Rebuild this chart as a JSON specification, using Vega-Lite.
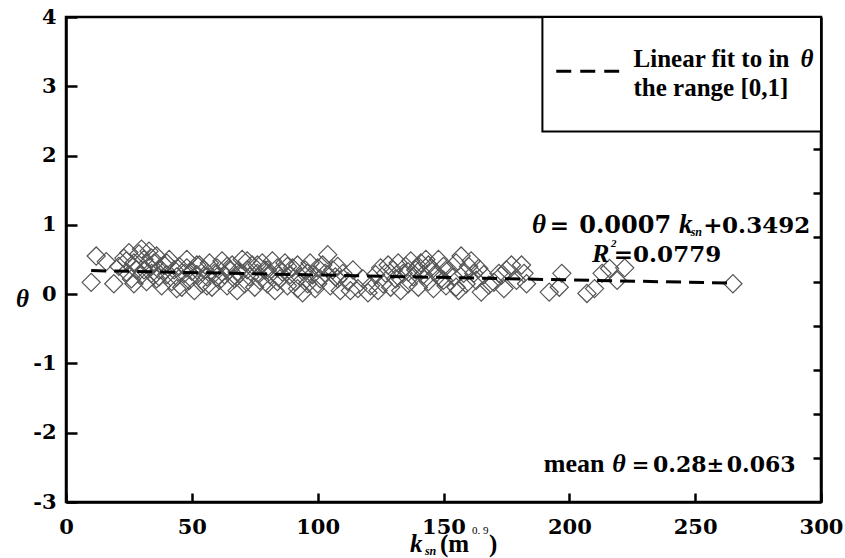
{
  "$schema": "https://vega.github.io/schema/vega-lite/v6.json",
  "width": 755,
  "height": 485,
  "autosize": "none",
  "padding": {"left": 66, "top": 17, "right": 24, "bottom": 56},
  "background": "white",
  "config": {
    "view": {"stroke": "black", "strokeWidth": 2.5},
    "axis": {
      "labelFont": "DejaVu Serif", "labelFontWeight": "bold", "labelFontSize": 21, "labelColor": "black",
      "domainColor": "black", "domainWidth": 2.5, "tickColor": "black", "tickWidth": 2.5, "grid": false,
      "titleFont": "Liberation Serif, Times New Roman, serif", "titleFontWeight": "bold", "titleColor": "black"
    },
    "text": {"font": "Liberation Serif, Times New Roman, serif", "fontWeight": "bold", "fontSize": 25, "color": "black", "baseline": "alphabetic"}
  },
  "datasets": {
    "pts": [
      {"k":10,"theta":0.17},{"k":12,"theta":0.55},{"k":16,"theta":0.47},{"k":19,"theta":0.15},{"k":21,"theta":0.40},
      {"k":23,"theta":0.52},{"k":24,"theta":0.32},{"k":24,"theta":0.48},{"k":25,"theta":0.60},{"k":26,"theta":0.22},
      {"k":27,"theta":0.45},{"k":27,"theta":0.15},{"k":28,"theta":0.35},{"k":29,"theta":0.58},{"k":30,"theta":0.28},
      {"k":30,"theta":0.65},{"k":31,"theta":0.50},{"k":31,"theta":0.35},{"k":32,"theta":0.18},{"k":33,"theta":0.40},
      {"k":33,"theta":0.62},{"k":34,"theta":0.30},{"k":34,"theta":0.52},{"k":35,"theta":0.45},{"k":36,"theta":0.22},
      {"k":36,"theta":0.55},{"k":37,"theta":0.35},{"k":37,"theta":0.25},{"k":38,"theta":0.12},{"k":39,"theta":0.42},
      {"k":40,"theta":0.28},{"k":40,"theta":0.45},{"k":41,"theta":0.50},{"k":42,"theta":0.18},{"k":43,"theta":0.35},
      {"k":44,"theta":0.25},{"k":44,"theta":0.08},{"k":45,"theta":0.40},{"k":46,"theta":0.10},{"k":47,"theta":0.30},
      {"k":48,"theta":0.38},{"k":48,"theta":0.50},{"k":49,"theta":0.20},{"k":50,"theta":0.33},{"k":51,"theta":0.05},
      {"k":52,"theta":0.28},{"k":52,"theta":0.42},{"k":53,"theta":0.42},{"k":54,"theta":0.15},{"k":55,"theta":0.35},
      {"k":56,"theta":0.25},{"k":56,"theta":0.12},{"k":57,"theta":0.45},{"k":58,"theta":0.10},{"k":59,"theta":0.30},
      {"k":60,"theta":0.38},{"k":60,"theta":0.25},{"k":61,"theta":0.20},{"k":62,"theta":0.48},{"k":63,"theta":0.28},
      {"k":64,"theta":0.12},{"k":64,"theta":0.40},{"k":65,"theta":0.35},{"k":66,"theta":0.42},{"k":67,"theta":0.22},
      {"k":68,"theta":0.05},{"k":68,"theta":0.32},{"k":69,"theta":0.30},{"k":70,"theta":0.50},{"k":71,"theta":0.15},
      {"k":72,"theta":0.35},{"k":72,"theta":0.48},{"k":73,"theta":0.25},{"k":74,"theta":0.42},{"k":75,"theta":0.10},
      {"k":76,"theta":0.30},{"k":76,"theta":0.42},{"k":77,"theta":0.20},{"k":78,"theta":0.45},{"k":79,"theta":0.35},
      {"k":80,"theta":0.15},{"k":80,"theta":0.35},{"k":81,"theta":0.28},{"k":82,"theta":0.48},{"k":83,"theta":0.05},
      {"k":84,"theta":0.38},{"k":84,"theta":0.18},{"k":85,"theta":0.22},{"k":86,"theta":0.32},{"k":87,"theta":0.45},
      {"k":88,"theta":0.12},{"k":88,"theta":0.40},{"k":89,"theta":0.28},{"k":90,"theta":0.38},{"k":91,"theta":0.18},
      {"k":92,"theta":0.42},{"k":92,"theta":0.08},{"k":93,"theta":0.25},{"k":94,"theta":0.02},{"k":95,"theta":0.35},
      {"k":96,"theta":0.15},{"k":96,"theta":0.30},{"k":97,"theta":0.45},{"k":98,"theta":0.28},{"k":99,"theta":0.08},
      {"k":100,"theta":0.38},{"k":100,"theta":0.15},{"k":101,"theta":0.22},{"k":102,"theta":0.42},{"k":103,"theta":0.30},
      {"k":104,"theta":0.57},{"k":105,"theta":0.12},{"k":106,"theta":0.35},{"k":107,"theta":0.25},{"k":108,"theta":0.40},
      {"k":108,"theta":0.22},{"k":109,"theta":0.05},{"k":110,"theta":0.30},{"k":112,"theta":0.18},{"k":113,"theta":0.05},
      {"k":114,"theta":0.35},{"k":116,"theta":0.08},{"k":118,"theta":0.22},{"k":120,"theta":0.02},{"k":121,"theta":0.12},
      {"k":123,"theta":0.28},{"k":124,"theta":0.05},{"k":125,"theta":0.38},{"k":126,"theta":0.15},{"k":127,"theta":0.30},
      {"k":128,"theta":0.42},{"k":129,"theta":0.10},{"k":130,"theta":0.35},{"k":131,"theta":0.22},{"k":132,"theta":0.45},
      {"k":133,"theta":0.05},{"k":134,"theta":0.30},{"k":135,"theta":0.40},{"k":136,"theta":0.15},{"k":136,"theta":0.32},
      {"k":137,"theta":0.48},{"k":138,"theta":0.25},{"k":139,"theta":0.35},{"k":140,"theta":0.10},{"k":140,"theta":0.40},
      {"k":141,"theta":0.45},{"k":142,"theta":0.28},{"k":143,"theta":0.50},{"k":144,"theta":0.18},{"k":144,"theta":0.42},
      {"k":145,"theta":0.38},{"k":146,"theta":0.08},{"k":147,"theta":0.30},{"k":148,"theta":0.50},{"k":149,"theta":0.22},
      {"k":150,"theta":0.40},{"k":150,"theta":0.20},{"k":151,"theta":0.12},{"k":152,"theta":0.35},{"k":154,"theta":0.25},
      {"k":155,"theta":0.45},{"k":155,"theta":0.10},{"k":156,"theta":0.05},{"k":157,"theta":0.55},{"k":158,"theta":0.30},
      {"k":159,"theta":0.15},{"k":160,"theta":0.40},{"k":161,"theta":0.48},{"k":162,"theta":0.30},{"k":163,"theta":0.20},
      {"k":164,"theta":0.37},{"k":165,"theta":0.03},{"k":166,"theta":0.28},{"k":168,"theta":0.13},{"k":170,"theta":0.17},
      {"k":172,"theta":0.30},{"k":173,"theta":0.27},{"k":174,"theta":0.08},{"k":175,"theta":0.35},{"k":177,"theta":0.42},
      {"k":179,"theta":0.20},{"k":181,"theta":0.42},{"k":182,"theta":0.30},{"k":183,"theta":0.15},{"k":192,"theta":0.03},
      {"k":196,"theta":0.10},{"k":197,"theta":0.30},{"k":207,"theta":0.01},{"k":210,"theta":0.08},{"k":213,"theta":0.30},
      {"k":216,"theta":0.37},{"k":219,"theta":0.20},{"k":222,"theta":0.38},{"k":265,"theta":0.15}
    ],
    "fit": [{"k":10,"theta":0.34},{"k":264,"theta":0.16}]
  },
  "layer": [
    {
      "layer": [
        {
          "data": {"name": "pts"},
          "mark": {"type": "point", "shape": "diamond", "filled": false, "size": 330, "stroke": "#555555", "strokeWidth": 1.2, "opacity": 1},
          "encoding": {
            "x": {"field": "k", "type": "quantitative", "scale": {"domain": [0, 300], "nice": false, "zero": false},
                  "axis": {"values": [0,50,100,150,200,250,300], "tickSize": -9, "labelPadding": 23, "title": null, "labelExpr": "'' + datum.value", "labelOverlap": false, "labelFlush": false}},
            "y": {"field": "theta", "type": "quantitative", "scale": {"domain": [-3, 4], "nice": false, "zero": false},
                  "axis": {"values": [-3,-2,-1,0,1,2,3,4], "tickSize": -11, "labelPadding": 21, "title": "θ", "titleAngle": 0,
                           "titleFontStyle": "italic", "titleFontSize": 25, "titleX": -44, "titleY": 281, "titleAlign": "center", "titleBaseline": "middle",
                           "labelExpr": "'' + datum.value", "labelOverlap": false, "labelFlush": false}}
          }
        },
        {
          "data": {"name": "fit"},
          "mark": {"type": "line", "color": "black", "strokeWidth": 3, "strokeDash": [15, 8]},
          "encoding": {"x": {"field": "k", "type": "quantitative"}, "y": {"field": "theta", "type": "quantitative"}}
        },
        {
          "data": {"values": [{}]},
          "mark": {"type": "rect", "fill": "white", "stroke": "black", "strokeWidth": 2},
          "encoding": {"x": {"datum": 189.3}, "x2": {"datum": 300}, "y": {"datum": 4}, "y2": {"datum": 2.348}}
        },
        {
          "data": {"values": [{}]},
          "mark": {"type": "rule", "color": "black", "strokeWidth": 3, "strokeDash": [15, 9]},
          "encoding": {"x": {"datum": 194.8}, "x2": {"datum": 219.8}, "y": {"datum": 3.217}}
        },
        {
          "data": {"values": [{}]},
          "mark": {"type": "text", "text": "Linear fit to in", "align": "left"},
          "encoding": {"x": {"datum": 225.5}, "y": {"datum": 3.275}}
        },
        {
          "data": {"values": [{}]},
          "mark": {"type": "text", "text": "θ", "align": "right", "fontStyle": "italic"},
          "encoding": {"x": {"datum": 297.0}, "y": {"datum": 3.275}}
        },
        {
          "data": {"values": [{}]},
          "mark": {"type": "text", "text": "the range [0,1]", "align": "left"},
          "encoding": {"x": {"datum": 225.5}, "y": {"datum": 2.855}}
        },
        {
          "data": {"values": [{}]},
          "mark": {"type": "text", "text": "θ", "align": "left", "fontStyle": "italic", "fontSize": 27},
          "encoding": {"x": {"datum": 185.2}, "y": {"datum": 0.883}}
        },
        {
          "data": {"values": [{}]},
          "mark": {"type": "text", "text": "=", "align": "center", "font": "DejaVu Serif", "fontSize": 23},
          "encoding": {"x": {"datum": 196.0}, "y": {"datum": 0.883}}
        },
        {
          "data": {"values": [{}]},
          "mark": {"type": "text", "text": "0.0007", "align": "center", "font": "DejaVu Serif", "fontSize": 24},
          "encoding": {"x": {"datum": 222.2}, "y": {"datum": 0.883}}
        },
        {
          "data": {"values": [{}]},
          "mark": {"type": "text", "text": "k", "align": "left", "fontStyle": "italic", "fontSize": 27},
          "encoding": {"x": {"datum": 243.6}, "y": {"datum": 0.883}}
        },
        {
          "data": {"values": [{}]},
          "mark": {"type": "text", "text": "sn", "align": "left", "fontStyle": "italic", "fontSize": 12},
          "encoding": {"x": {"datum": 248.2}, "y": {"datum": 0.84}}
        },
        {
          "data": {"values": [{}]},
          "mark": {"type": "text", "text": "+", "align": "center", "font": "DejaVu Serif", "fontSize": 23},
          "encoding": {"x": {"datum": 257.0}, "y": {"datum": 0.883}}
        },
        {
          "data": {"values": [{}]},
          "mark": {"type": "text", "text": "0.3492", "align": "center", "font": "DejaVu Serif", "fontSize": 23},
          "encoding": {"x": {"datum": 278.2}, "y": {"datum": 0.883}}
        },
        {
          "data": {"values": [{}]},
          "mark": {"type": "text", "text": "R", "align": "left", "fontStyle": "italic", "fontSize": 26},
          "encoding": {"x": {"datum": 209.0}, "y": {"datum": 0.464}}
        },
        {
          "data": {"values": [{}]},
          "mark": {"type": "text", "text": "2", "align": "left", "fontSize": 11, "fontStyle": "italic"},
          "encoding": {"x": {"datum": 216.6}, "y": {"datum": 0.68}}
        },
        {
          "data": {"values": [{}]},
          "mark": {"type": "text", "text": "=0.0779", "align": "center", "font": "DejaVu Serif", "fontSize": 23},
          "encoding": {"x": {"datum": 239.0}, "y": {"datum": 0.464}}
        },
        {
          "data": {"values": [{}]},
          "mark": {"type": "text", "text": "mean", "align": "center", "fontSize": 26},
          "encoding": {"x": {"datum": 201.9}, "y": {"datum": -2.565}}
        },
        {
          "data": {"values": [{}]},
          "mark": {"type": "text", "text": "θ", "align": "center", "fontSize": 26, "fontStyle": "italic"},
          "encoding": {"x": {"datum": 219.7}, "y": {"datum": -2.565}}
        },
        {
          "data": {"values": [{}]},
          "mark": {"type": "text", "text": "=", "align": "center", "font": "DejaVu Serif", "fontSize": 21},
          "encoding": {"x": {"datum": 228.3}, "y": {"datum": -2.565}}
        },
        {
          "data": {"values": [{}]},
          "mark": {"type": "text", "text": "0.28", "align": "center", "font": "DejaVu Serif", "fontSize": 22},
          "encoding": {"x": {"datum": 243.9}, "y": {"datum": -2.565}}
        },
        {
          "data": {"values": [{}]},
          "mark": {"type": "text", "text": "±", "align": "center", "font": "DejaVu Serif", "fontSize": 21},
          "encoding": {"x": {"datum": 258.0}, "y": {"datum": -2.565}}
        },
        {
          "data": {"values": [{}]},
          "mark": {"type": "text", "text": "0.063", "align": "center", "font": "DejaVu Serif", "fontSize": 22},
          "encoding": {"x": {"datum": 276.2}, "y": {"datum": -2.565}}
        },
        {
          "data": {"values": [{}]},
          "mark": {"type": "text", "text": "k", "align": "left", "fontStyle": "italic", "fontSize": 25},
          "encoding": {"x": {"datum": 136.7}, "y": {"datum": -3.72}}
        },
        {
          "data": {"values": [{}]},
          "mark": {"type": "text", "text": "sn", "align": "left", "fontStyle": "italic", "fontSize": 12},
          "encoding": {"x": {"datum": 142.6}, "y": {"datum": -3.76}}
        },
        {
          "data": {"values": [{}]},
          "mark": {"type": "text", "text": "(m", "align": "left", "fontSize": 25},
          "encoding": {"x": {"datum": 148.6}, "y": {"datum": -3.72}}
        },
        {
          "data": {"values": [{}]},
          "mark": {"type": "text", "text": "0. 9", "align": "left", "fontSize": 11, "fontWeight": "normal"},
          "encoding": {"x": {"datum": 161.3}, "y": {"datum": -3.46}}
        },
        {
          "data": {"values": [{}]},
          "mark": {"type": "text", "text": ")", "align": "left", "fontSize": 25},
          "encoding": {"x": {"datum": 168.1}, "y": {"datum": -3.72}}
        }
      ]
    },
    {
      "data": {"values": [{}]},
      "mark": {"type": "point", "opacity": 0},
      "encoding": {
        "x": {"datum": 0, "type": "quantitative"},
        "y": {"datum": 0, "type": "quantitative", "scale": {"domain": [0, 11], "nice": false, "zero": false},
              "axis": {"orient": "right", "values": [1,2,3,4,5,6,7,8,9,10], "labels": false, "tickSize": -8, "title": null}}
      }
    }
  ],
  "resolve": {"scale": {"y": "independent"}, "axis": {"y": "independent"}}
}
